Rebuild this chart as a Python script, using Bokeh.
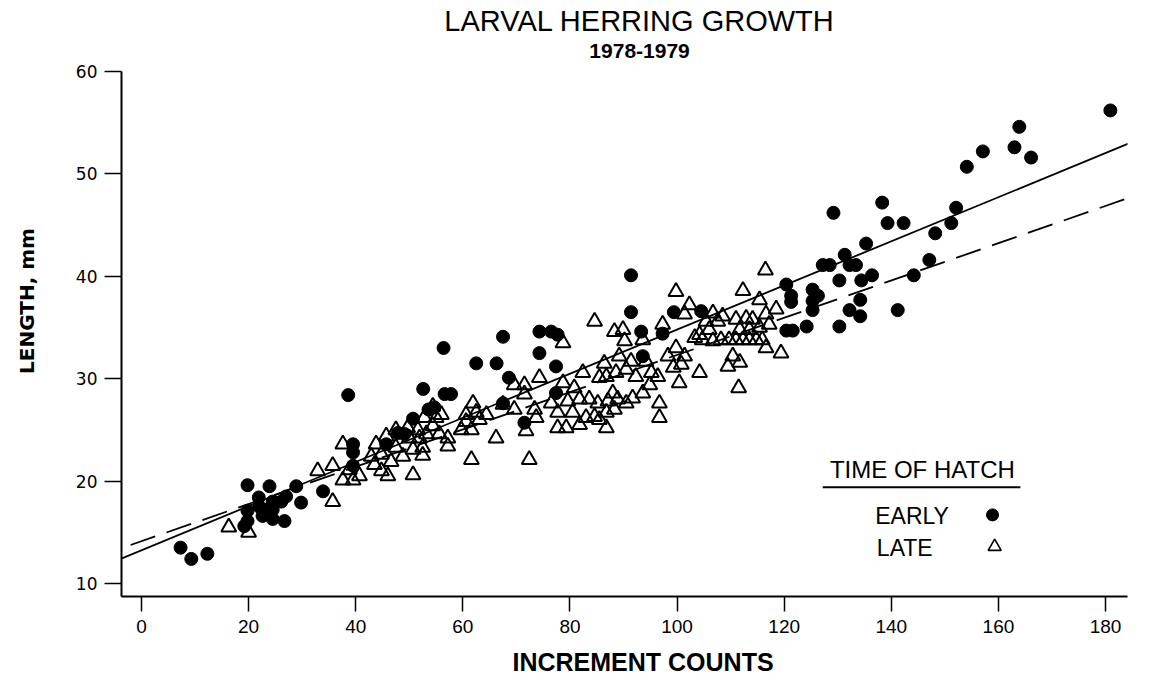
from bokeh.plotting import figure
from bokeh.models import Title, Label, FixedTicker
from bokeh.embed import file_html
from bokeh.resources import INLINE
import numpy as np

# ---- data ----
early_x = [7.3, 9.3, 12.3, 19.2, 19.8, 19.8, 19.8, 21.9, 22.0, 22.6, 23.3, 23.9, 24.5, 24.5, 24.5,
           26.1, 26.7, 27.0, 28.9, 29.8, 33.9, 38.6, 39.5, 39.5, 39.5, 45.7, 47.9, 49.1, 50.7, 52.6,
           53.6, 54.7, 56.4, 56.6, 57.8, 62.5, 66.3, 67.5, 68.6, 67.5, 71.5, 74.3, 76.5, 77.7, 74.3,
           77.4, 77.4, 91.4, 91.4, 93.3, 93.6, 97.3, 99.4, 104.5, 120.4, 121.3, 121.3, 120.4, 121.6,
           124.2, 125.3, 126.3, 125.3, 125.3, 127.2, 128.5, 129.2, 130.3, 130.3, 131.3, 132.2, 133.4,
           132.2, 134.2, 134.2, 134.4, 135.3, 136.4, 138.3, 139.3, 141.2, 142.3, 144.2, 147.1, 148.2,
           151.2, 152.1, 154.1, 157.1, 163.0, 163.9, 166.1, 180.9]
early_y = [13.5, 12.4, 12.9, 15.6, 16.1, 17.1, 19.6, 18.4, 17.5, 16.6, 17.2, 19.5, 18.0, 17.2, 16.3,
           18.0, 16.1, 18.5, 19.5, 17.9, 19.0, 28.4, 23.6, 22.8, 21.5, 23.6, 24.7, 24.6, 26.1, 29.0,
           27.0, 27.2, 33.0, 28.5, 28.5, 31.5, 31.5, 34.1, 30.1, 27.6, 25.7, 34.6, 34.6, 34.3, 32.5,
           31.2, 28.6, 40.1, 36.5, 34.6, 32.2, 34.4, 36.5, 36.6, 39.2, 38.1, 37.5, 34.7, 34.7,
           35.1, 38.7, 38.1, 37.6, 36.7, 41.1, 41.1, 46.2, 39.6, 35.1, 42.1, 41.1, 41.1,
           36.7, 37.7, 36.1, 39.6, 43.2, 40.1, 47.2, 45.2, 36.7, 45.2, 40.1, 41.6, 44.2,
           45.2, 46.7, 50.7, 52.2, 52.6, 54.6, 51.6, 56.2]

late_x = [16.3, 20.0, 32.9, 35.7, 35.7, 37.6, 37.6, 38.8, 39.5, 40.7,
          42.9, 43.5, 43.8, 44.8, 44.8, 45.7, 46.0, 46.6, 47.5, 47.5, 48.8, 49.7, 50.0, 50.7, 50.7,
          51.6, 51.9, 52.5, 52.5, 52.8, 53.2, 54.4, 54.4, 55.0, 55.6, 56.0, 57.2, 57.2,
          59.7, 60.6, 60.6, 61.6, 61.6, 61.9, 62.5, 63.1, 64.4, 66.2,
          67.5, 69.6, 69.6, 71.5, 71.5, 71.8, 72.4, 73.4, 73.7, 74.3, 76.5, 77.7, 77.7, 78.7, 78.7,
          79.3, 79.6, 80.5, 80.8, 81.8, 81.8, 82.4, 83.0, 83.6, 84.6, 84.6, 85.2, 85.5, 85.5, 86.4,
          86.8, 86.8, 86.8, 87.1, 88.0, 88.3, 88.3, 88.6, 88.9, 89.2, 89.9, 90.2, 90.5, 90.5, 91.4,
          91.7, 92.3, 93.6, 93.6, 94.2, 94.9, 95.2, 96.4, 96.7, 96.7, 97.3, 98.3, 99.3, 99.8, 99.8,
          100.4, 100.8, 101.4, 101.4, 102.3, 103.3, 104.2, 104.2, 104.7, 105.4, 106.0, 106.7, 106.7,
          107.6, 108.2, 108.5, 109.5, 109.7, 110.4, 111.0, 111.0, 111.5, 111.7, 111.7, 112.3, 112.3,
          112.9, 113.5, 113.5, 114.1, 114.8, 115.4, 115.4, 115.9, 116.5, 116.6, 116.6, 117.2, 118.5,
          119.4]
late_y = [15.5, 15.0, 21.0, 21.5, 18.0, 23.6, 20.1, 21.1, 20.1, 20.5,
          22.4, 21.6, 23.6, 22.6, 21.0, 24.4, 20.5, 21.9, 25.0, 23.3, 22.4, 25.2, 24.2, 23.1, 20.6,
          25.0, 24.2, 23.3, 22.5, 26.2, 24.6, 27.3, 25.4, 26.2, 24.6, 26.5, 24.2, 23.4,
          25.0, 26.5, 25.8, 25.0, 22.1, 27.6, 26.7, 26.0, 26.5, 24.2,
          27.5, 27.0, 29.4, 29.4, 28.5, 24.9, 22.1, 27.0, 26.2, 30.1, 27.6, 26.7, 25.2, 33.5, 29.6,
          25.2, 27.8, 26.7, 29.1, 28.0, 25.5, 30.6, 26.2, 28.0, 35.6, 26.3, 27.6, 30.1, 26.0, 31.5,
          30.2, 26.7, 25.2, 27.8, 28.6, 34.6, 27.0, 30.6, 28.0, 32.2, 34.8, 33.7, 30.9, 27.6, 31.7,
          28.1, 30.2, 33.8, 28.6, 31.7, 29.4, 30.6, 30.2, 27.6, 26.2, 35.3, 32.2, 31.1, 38.5, 33.0,
          29.6, 31.4, 32.2, 36.3, 37.2, 34.0, 34.3, 30.6, 33.8, 35.6, 34.8, 36.4, 33.7,
          35.6, 33.8, 36.1, 31.2, 33.8, 32.2, 35.8, 33.8, 29.1, 34.8, 31.6, 38.6, 33.8,
          35.9, 34.8, 33.8, 35.8, 33.8, 37.7, 35.0, 33.8, 40.6, 36.3, 33.0, 35.3, 36.8,
          32.5]

# regression lines: (intercept, slope)
early_fit = (13.25, 0.2155)
late_fit = (14.13, 0.1819)

x_ticks = [0, 20, 40, 60, 80, 100, 120, 140, 160, 180]
y_ticks = [10, 20, 30, 40, 50, 60]

title_text = "LARVAL HERRING GROWTH"
subtitle_text = "1978-1979"
x_label = "INCREMENT COUNTS"
y_label = "LENGTH, mm"
legend_title = "TIME OF HATCH"
legend_labels = ["EARLY", "LATE"]

# ---- figure ----
X0, X1 = -3.73, 184.1
Y0, Y1 = 8.73, 66.45      # headroom above 60 holds the titles; the axis itself stops at 60
Y_AXIS_TOP = 60

p = figure(width=1140, height=690, x_range=(X0, X1), y_range=(Y0, Y1),
           output_backend="svg", toolbar_location=None, title=None,
           min_border_left=121, min_border_right=13, min_border_top=5, min_border_bottom=94)
p.outline_line_color = None
p.background_fill_color = "white"
p.border_fill_color = "white"
p.grid.visible = False

for ax in (p.xaxis[0], p.yaxis[0]):
    ax.axis_line_width = 2
    ax.axis_line_color = "black"
    ax.major_tick_line_width = 1.5
    ax.major_tick_line_color = "black"
    ax.major_tick_in = 0
    ax.minor_tick_line_color = None
    ax.major_label_text_color = "black"
    ax.axis_label_text_color = "black"
    ax.axis_label_text_font_style = "bold"

p.yaxis.bounds = (Y0, Y_AXIS_TOP)
p.xaxis.ticker = FixedTicker(ticks=x_ticks)
p.yaxis.ticker = FixedTicker(ticks=y_ticks)
p.xaxis.major_tick_out = 15
p.yaxis.major_tick_out = 17
p.xaxis.major_label_standoff = 8
p.yaxis.major_label_standoff = 7
p.xaxis.major_label_text_font = "Liberation Sans"
p.xaxis.major_label_text_font_size = "19px"
p.yaxis.major_label_text_font = "DejaVu Sans"
p.yaxis.major_label_text_font_size = "17px"
p.yaxis.axis_label = y_label
p.yaxis.axis_label_text_font = "DejaVu Sans"
p.yaxis.axis_label_text_font_size = "20px"
p.yaxis.axis_label_standoff = 34

# x-axis caption as a title below the axis, so it can sit where the original puts it
xcap = Title(text=x_label, align="left", text_font="Liberation Sans",
             text_font_size="25px", text_font_style="bold", text_color="black",
             standoff=21, offset=391)
p.add_layout(xcap, "below")

# titles, placed in the headroom above the y axis
p.add_layout(Label(x=93.0, y=64.9, text=title_text, text_align="center",
                   text_baseline="middle", text_font="Liberation Sans",
                   text_font_size="29px", text_color="black"))
p.add_layout(Label(x=93.0, y=62.05, text=subtitle_text, text_align="center",
                   text_baseline="middle", text_font="Liberation Sans",
                   text_font_size="21px", text_font_style="bold", text_color="black"))

# regression lines
lx = np.array([X0 - 5, X1 + 5])
p.line(lx, early_fit[0] + early_fit[1] * lx, line_color="black", line_width=1.8)
p.line(lx, late_fit[0] + late_fit[1] * lx, line_color="black", line_width=1.8,
       line_dash="26 12")

# points
p.scatter(late_x, late_y, marker="triangle", size=15, fill_color=None,
          line_color="black", line_width=2)
p.scatter(early_x, early_y, marker="circle", size=13, fill_color="black",
          line_color="black")

# legend (drawn by hand: marker on the right of the label)
lg_font = "Liberation Sans"
p.add_layout(Label(x=145.8, y=21.1, text=legend_title, text_align="center",
                   text_baseline="middle", text_font=lg_font,
                   text_font_size="24px", text_color="black"))
p.line([127.2, 164.1], [19.4, 19.4], line_color="black", line_width=1.8)
p.add_layout(Label(x=137.0, y=16.6, text=legend_labels[0], text_align="left",
                   text_baseline="middle", text_font=lg_font,
                   text_font_size="23px", text_color="black"))
p.add_layout(Label(x=137.3, y=13.5, text=legend_labels[1], text_align="left",
                   text_baseline="middle", text_font=lg_font,
                   text_font_size="23px", text_color="black"))
p.scatter([158.9], [16.7], marker="circle", size=12, fill_color="black", line_color="black")
p.scatter([159.3], [13.6], marker="triangle", size=13, fill_color=None,
          line_color="black", line_width=1.6)

open("out.html", "w").write(file_html(p, INLINE))
